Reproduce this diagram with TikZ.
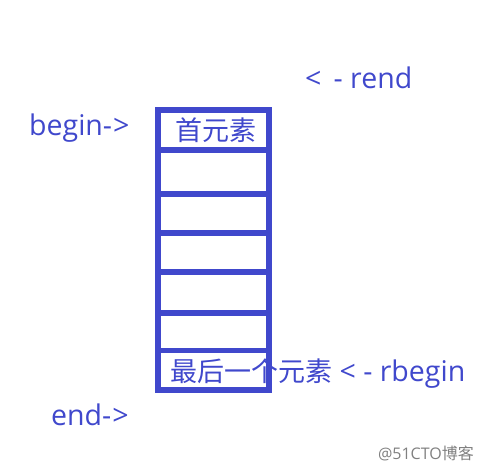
\documentclass[tikz,border=0pt]{standalone}
\usepackage{fontspec}
\setmainfont{Open Sans}
\newfontfamily\cjk{Noto Sans CJK SC}
\usepackage{tikz}
\definecolor{vecblue}{RGB}{64,72,204}
\tikzset{
  cell/.style={draw=vecblue, line width=5.5pt, minimum width=111pt, inner sep=0pt},
  lbl/.style={text=vecblue, anchor=base west, inner sep=0pt, font=\fontsize{28.5}{32}\selectfont},
}

\begin{document}
\begin{tikzpicture}[x=1pt,y=-1pt]
  \useasboundingbox (0,0) rectangle (483,472);
  % cells of the container, top to bottom
  \foreach \n/\y/\h in {1/130/40,2/172/44,3/213.5/39,4/252.5/39,5/292.5/41,6/331.5/37.5,7/370/39.5}
    \node[cell, minimum height=\h pt] (cell\n) at (213.5,\y) {};
  \node[lbl, anchor=center, font=\cjk\fontsize{27}{30}\selectfont] (first) at (216,130) {首元素};
  % iterators
  \node[lbl] (rendlbl) at (305,88) {<\,\ -\ rend};
  \node[lbl] (beginlbl) at (29,135) {begin-\kern1pt>};
  \node[lbl] (rbeginlbl) at (170,381) {{\cjk\fontsize{27}{30}\selectfont 最后一个元素} < - rbegin};
  \node[lbl] (endlbl) at (51,425) {end-\kern1pt>};
  \node[text=gray, anchor=base east, inner sep=0pt, font=\fontsize{16}{18}\selectfont] (mark) at (474,459) {@51CTO{\cjk 博客}};
\end{tikzpicture}
\end{document}
